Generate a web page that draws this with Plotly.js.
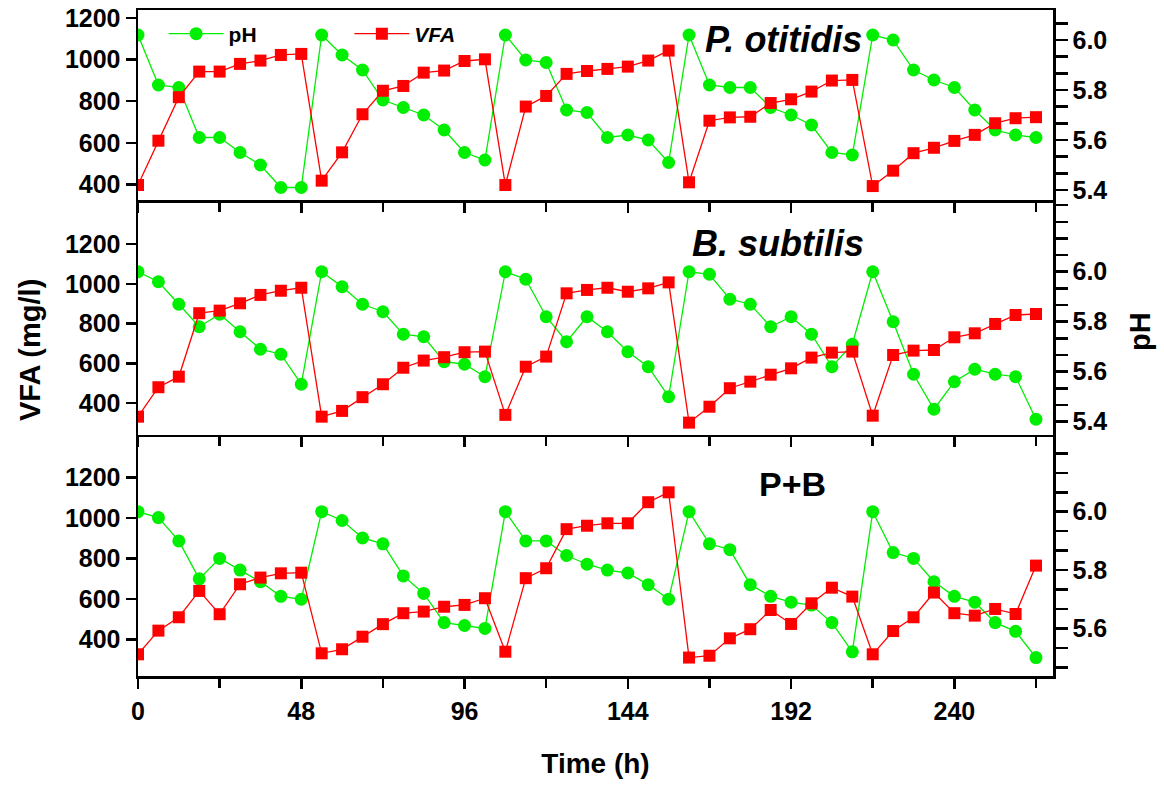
<!DOCTYPE html>
<html>
<head>
<meta charset="utf-8">
<script src="https://cdn.plot.ly/plotly-3.0.1.min.js"></script>
<style>
  html, body { margin: 0; padding: 0; background: #ffffff; }
  #chart { width: 1164px; height: 788px; }
</style>
</head>
<body>
<div id="chart"></div>
<script>
// Sampling times (h)
const timeH = [0, 6, 12, 18, 24, 30, 36, 42, 48,
               54, 60, 66, 72, 78, 84, 90, 96, 102,
               108, 114, 120, 126, 132, 138, 144, 150, 156,
               162, 168, 174, 180, 186, 192, 198, 204, 210,
               216, 222, 228, 234, 240, 246, 252, 258, 264];

// P. otitidis
const phOtitidis = [6.02, 5.82, 5.81, 5.61, 5.61, 5.55, 5.50, 5.41, 5.41,
                    6.02, 5.94, 5.88, 5.76, 5.73, 5.70, 5.64, 5.55, 5.52,
                    6.02, 5.92, 5.91, 5.72, 5.71, 5.61, 5.62, 5.60, 5.51,
                    6.02, 5.82, 5.81, 5.81, 5.73, 5.70, 5.66, 5.55, 5.54,
                    6.02, 6.00, 5.88, 5.84, 5.81, 5.72, 5.64, 5.62, 5.61];
const vfaOtitidis = [397, 610, 819, 942, 942, 979, 995, 1022, 1027,
                     418, 554, 737, 850, 873, 937, 947, 993, 1001,
                     397, 774, 825, 931, 945, 955, 966, 995, 1043,
                     410, 706, 722, 725, 791, 809, 846, 899, 902,
                     392, 466, 550, 576, 609, 638, 694, 718, 723];

// B. subtilis
const phSubtilis = [6.00, 5.96, 5.87, 5.78, 5.83, 5.76, 5.69, 5.67, 5.55,
                    6.00, 5.94, 5.87, 5.84, 5.75, 5.74, 5.64, 5.63, 5.58,
                    6.00, 5.97, 5.82, 5.72, 5.82, 5.76, 5.68, 5.62, 5.50,
                    6.00, 5.99, 5.89, 5.87, 5.78, 5.82, 5.75, 5.62, 5.71,
                    6.00, 5.80, 5.59, 5.45, 5.56, 5.61, 5.59, 5.58, 5.41];
const vfaSubtilis = [332, 480, 533, 852, 865, 902, 944, 965, 980,
                     332, 361, 430, 495, 578, 614, 631, 656, 659,
                     341, 583, 634, 952, 969, 980, 960, 977, 1007,
                     302, 382, 475, 508, 543, 575, 629, 654, 659,
                     337, 642, 664, 667, 731, 751, 798, 843, 848];

// P+B co-culture
const phMixed = [6.00, 5.98, 5.90, 5.77, 5.84, 5.80, 5.76, 5.71, 5.70,
                 6.00, 5.97, 5.91, 5.89, 5.78, 5.72, 5.62, 5.61, 5.60,
                 6.00, 5.90, 5.90, 5.85, 5.82, 5.80, 5.79, 5.75, 5.70,
                 6.00, 5.89, 5.87, 5.75, 5.71, 5.69, 5.68, 5.62, 5.52,
                 6.00, 5.86, 5.84, 5.76, 5.71, 5.69, 5.62, 5.59, 5.50];
const vfaMixed = [328, 445, 511, 641, 526, 674, 707, 728, 731,
                  333, 353, 415, 477, 531, 539, 563, 572, 605,
                  341, 704, 753, 946, 963, 975, 975, 1079, 1128,
                  312, 321, 407, 452, 547, 478, 580, 657, 613,
                  328, 443, 511, 633, 531, 519, 552, 527, 766];

const panelNames = ['<i>P. otitidis</i>', '<i>B. subtilis</i>', 'P+B'];
const vfaTicks = [400, 600, 800, 1000, 1200];
const phTicks = [5.4, 5.6, 5.8, 6.0];
const timeTicks = [0, 48, 96, 144, 192, 240];

const GREEN = '#00ee00';
const RED = '#ff0000';
const FONT = 'Liberation Sans, Arial, sans-serif';

function panelTraces(ph, vfa, xa, yPh, yVfa, withLegend) {
  return [
    {
      x: timeH, y: ph, xaxis: xa, yaxis: yPh, name: 'pH',
      type: 'scatter', mode: 'lines+markers',
      line: { color: GREEN, width: 1.3 },
      marker: { symbol: 'circle', size: 13, color: GREEN },
      showlegend: withLegend, legend: 'legend'
    },
    {
      x: timeH, y: vfa, xaxis: xa, yaxis: yVfa, name: '<i>VFA</i>',
      type: 'scatter', mode: 'lines+markers',
      line: { color: RED, width: 1.3 },
      marker: { symbol: 'square', size: 12, color: RED },
      showlegend: withLegend, legend: 'legend2'
    }
  ];
}

const data = [].concat(
  panelTraces(phOtitidis, vfaOtitidis, 'x3', 'y', 'y2', true),
  panelTraces(phSubtilis, vfaSubtilis, 'x2', 'y3', 'y4', false),
  panelTraces(phMixed, vfaMixed, 'x', 'y5', 'y6', false)
);

const tickFont = { family: FONT, size: 25, color: '#000', weight: 'bold' };

function xAxis(showLabels, mirrorTop, extra) {
  return Object.assign({
    range: [0, 269],
    showline: true, linewidth: 2.5, linecolor: '#000', mirror: mirrorTop,
    ticks: 'outside', ticklen: 10, tickwidth: 2.5, tickcolor: '#000',
    tickvals: timeTicks, ticktext: timeTicks.map(String),
    minor: { dtick: 24, tick0: 0, ticks: 'outside', ticklen: 9, tickwidth: 2.5, tickcolor: '#000' },
    showticklabels: showLabels, tickfont: tickFont, ticklabelstandoff: 1,
    showgrid: false, zeroline: false
  }, extra || {});
}

function phAxis(domain, range, anchor) {
  return {
    domain: domain, range: range, side: 'right', anchor: anchor,
    showline: true, linewidth: 2.5, linecolor: '#000',
    ticks: 'outside', ticklen: 12, tickwidth: 2.5, tickcolor: '#000',
    tickvals: phTicks, ticktext: phTicks.map(v => v.toFixed(1)),
    minor: { tickmode: 'linear', dtick: 0.2 / 3, tick0: 0, ticks: 'outside', ticklen: 12, tickwidth: 2.5, tickcolor: '#000' },
    tickfont: { family: FONT, size: 25, color: '#000', weight: 'bold' },
    showgrid: false, zeroline: false
  };
}

function vfaAxis(overlay, range, anchor) {
  return {
    overlaying: overlay, range: range, side: 'left', anchor: anchor,
    showline: true, linewidth: 2.5, linecolor: '#000',
    ticks: 'outside', ticklen: 10, tickwidth: 2.5, tickcolor: '#000',
    tickvals: vfaTicks, ticktext: vfaTicks.map(String),
    tickfont: tickFont,
    showgrid: false, zeroline: false
  };
}

const annFont = { family: FONT, size: 36, color: '#000', weight: 'bold' };

const layout = {
  width: 1164, height: 788, autosize: false,
  margin: { l: 138, r: 111, t: 10, b: 112 },
  paper_bgcolor: '#fff', plot_bgcolor: '#fff',
  font: { family: FONT, color: '#000' },
  xaxis: xAxis(true, false, {
    anchor: 'y5',
    title: { text: 'Time (h)', font: { family: FONT, size: 28, color: '#000', weight: 'bold' }, standoff: 30 }
  }),
  xaxis2: xAxis(false, false, { anchor: 'y3', matches: 'x' }),
  xaxis3: xAxis(false, true, { anchor: 'y', matches: 'x' }),
  yaxis: phAxis([0.7147, 1], [5.36, 6.12], 'x3'),
  yaxis2: vfaAxis('y', [325, 1238], 'x3'),
  yaxis3: phAxis([0.3619, 0.7147], [5.347, 6.287], 'x2'),
  yaxis4: vfaAxis('y3', [240, 1421], 'x2'),
  yaxis5: phAxis([0, 0.3619], [5.437, 6.263], 'x'),
  yaxis6: vfaAxis('y5', [221, 1411], 'x'),
  legend: {
    x: 0.028, y: 0.964, xanchor: 'left', yanchor: 'middle',
    orientation: 'h', bgcolor: 'rgba(0,0,0,0)', itemwidth: 55,
    font: { family: FONT, size: 21, color: '#000', weight: 'bold' }
  },
  legend2: {
    x: 0.231, y: 0.964, xanchor: 'left', yanchor: 'middle',
    orientation: 'h', bgcolor: 'rgba(0,0,0,0)', itemwidth: 55,
    font: { family: FONT, size: 21, color: '#000', weight: 'bold' }
  },
  annotations: [
    { text: panelNames[0], xref: 'paper', yref: 'paper', x: 0.617, y: 0.955,
      xanchor: 'left', yanchor: 'middle', showarrow: false, font: annFont },
    { text: panelNames[1], xref: 'paper', yref: 'paper', x: 0.603, y: 0.650,
      xanchor: 'left', yanchor: 'middle', showarrow: false, font: annFont },
    { text: panelNames[2], xref: 'paper', yref: 'paper', x: 0.677, y: 0.288,
      xanchor: 'left', yanchor: 'middle', showarrow: false,
      font: { family: FONT, size: 34, color: '#000', weight: 'bold' } },
    { text: 'VFA (mg/l)', xref: 'paper', yref: 'paper', x: -0.118, y: 0.4895,
      xanchor: 'center', yanchor: 'middle', textangle: -90, showarrow: false,
      font: { family: FONT, size: 29, color: '#000', weight: 'bold' } },
    { text: 'pH', xref: 'paper', yref: 'paper', x: 1.095, y: 0.518,
      xanchor: 'center', yanchor: 'middle', textangle: -90, showarrow: false,
      font: { family: FONT, size: 29, color: '#000', weight: 'bold' } }
  ]
};

Plotly.newPlot('chart', data, layout, { displayModeBar: false, staticPlot: true });
</script>
</body>
</html>
